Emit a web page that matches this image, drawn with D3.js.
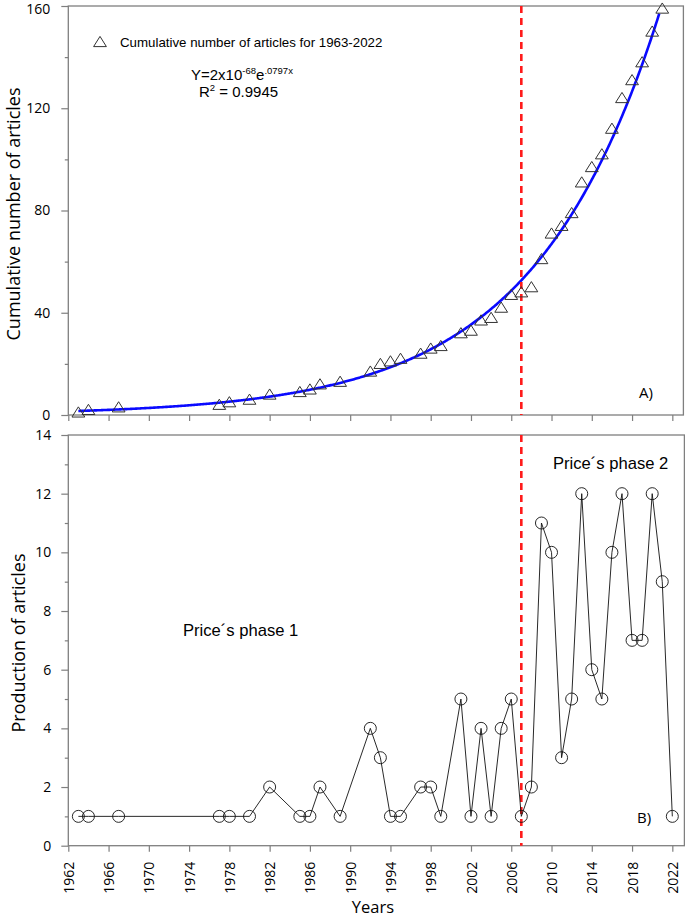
<!DOCTYPE html>
<html><head><meta charset="utf-8">
<script src="https://cdn.jsdelivr.net/npm/d3@7"></script>
<style>body{margin:0;background:#fff}svg{display:block}</style>
</head><body>
<svg id="c" width="685" height="919"></svg>
<script>
// ---- data ----
const years = [1963,1964,1967,1977,1978,1980,1982,1985,1986,1987,1989,1992,1993,1994,1995,1997,1998,1999,2001,2002,2003,2004,2005,2006,2007,2008,2009,2010,2011,2012,2013,2014,2015,2016,2017,2018,2019,2020,2021,2022];
const production = [1,1,1,1,1,1,2,1,1,2,1,4,3,1,1,2,2,1,5,1,4,1,4,5,1,2,11,10,3,5,12,6,5,10,12,7,7,12,9,1];
const cumYears = [1963,1964,1967,1977,1978,1980,1982,1985,1986,1987,1989,1992,1993,1994,1995,1997,1998,1999,2001,2002,2003,2004,2005,2006,2007,2008,2009,2010,2011,2012,2013,2014,2015,2016,2017,2018,2019,2020,2021];
const cumulative = [1,2,3,4,5,6,8,9,10,12,13,17,20,21,22,24,26,27,32,33,37,38,42,47,48,50,61,71,74,79,91,97,102,112,124,131,138,150,159];
const fitA = 1.79e-68, fitB = 0.0797, fitStart = 1963, fitEnd = 2020.7;
const phaseYear = 2007;
const xTicks = [1962,1966,1970,1974,1978,1982,1986,1990,1994,1998,2002,2006,2010,2014,2018,2022];
const topTicks = [0,40,80,120,160], topMinor = [20,60,100,140];
const botTicks = [0,2,4,6,8,10,12,14], botMinor = [1,3,5,7,9,11,13];

// ---- setup ----
const svg = d3.select("#c");
const AX = "#7f7f7f";
const TICKFONT = "'Open Sans', sans-serif";
const ARIAL = "'Liberation Sans', Arial, sans-serif";
const L = 68.3;
const xT = d3.scaleLinear().domain([1962, 2023.1]).range([L, 683.4]);
const xB = d3.scaleLinear().domain([1962, 2023.1]).range([L, 683.4]);
const yT = d3.scaleLinear().domain([0,160]).range([415, 6]);
const yB = d3.scaleLinear().domain([0,14]).range([845.7, 435]);

function styleAxis(g){
  g.select(".domain").remove();
  g.selectAll(".tick line").attr("stroke", AX).attr("stroke-width", 1.2);
  g.selectAll(".tick text").attr("fill","#000").style("font-family", TICKFONT).style("font-size","14px");
}

// ---- top panel ----
const topG = svg.append("g");
topG.append("rect").attr("x", L).attr("y", 6).attr("width", 683.4 - L).attr("height", 409)
  .attr("fill","none").attr("stroke", AX).attr("stroke-width", 1.3);
const yAxT = topG.append("g").attr("transform",`translate(${L},0)`)
  .call(d3.axisLeft(yT).tickValues(topTicks).tickSize(7).tickPadding(11).tickFormat(d3.format("d"))).call(styleAxis);
yAxT.selectAll(".tick text").filter(d => d === 160).attr("dy", "0.5em");
topG.append("g").attr("transform",`translate(${L},0)`)
  .call(d3.axisLeft(yT).tickValues(topMinor).tickSize(3.5).tickFormat("")).call(styleAxis);
topG.append("g").attr("transform",`translate(0,415)`)
  .call(d3.axisBottom(xT).tickValues(xTicks).tickSize(6).tickFormat("")).call(styleAxis);

// fit curve
const fitPts = d3.range(fitStart, fitEnd + 0.001, 0.1).map(t => [t, fitA * Math.exp(fitB * t)]);
topG.append("path").datum(fitPts)
  .attr("d", d3.line().x(d => xT(d[0])).y(d => yT(d[1])).curve(d3.curveLinear))
  .attr("fill","none").attr("stroke","#0a0aff").attr("stroke-width", 2.6);

// red dashed line top
topG.append("line").attr("x1", xT(phaseYear)).attr("x2", xT(phaseYear)).attr("y1", yT(160)).attr("y2", yT(0))
  .attr("stroke","#ff1a1a").attr("stroke-width", 2.6).attr("stroke-dasharray","7,5");

// triangles
const tri = "M0,-5.6L6.4,4.6L-6.4,4.6Z";
topG.selectAll("path.tri").data(cumYears.map((y,i)=>[y,cumulative[i]])).join("path")
  .attr("class","tri").attr("d", tri)
  .attr("transform", d => `translate(${xT(d[0])},${yT(d[1])})`)
  .attr("fill","none").attr("stroke","#333").attr("stroke-width", 1);

// legend & formula
topG.append("path").attr("d", tri).attr("transform","translate(100,42)")
  .attr("fill","none").attr("stroke","#333").attr("stroke-width",1);
topG.append("text").attr("x",120).attr("y",47).style("font-family",ARIAL).style("font-size","13.3px")
  .text("Cumulative number of articles for 1963-2022");
const f1 = topG.append("text").attr("x",191).attr("y",80).style("font-family",ARIAL).style("font-size","15px");
f1.append("tspan").text("Y=2x10");
f1.append("tspan").attr("dy",-6).style("font-size","9.5px").text("-68");
f1.append("tspan").attr("dy",6).text("e");
f1.append("tspan").attr("dy",-6).style("font-size","9.5px").text(".0797x");
const f2 = topG.append("text").attr("x",199).attr("y",97).style("font-family",ARIAL).style("font-size","15px");
f2.append("tspan").text("R");
f2.append("tspan").attr("dy",-6).style("font-size","9.5px").text("2");
f2.append("tspan").attr("dy",6).text(" = 0.9945");
topG.append("text").attr("x",639).attr("y",398).style("font-family",TICKFONT).style("font-size","15px").text("A)");

// y label top
topG.append("text").attr("transform","translate(20,214) rotate(-90)").attr("text-anchor","middle")
  .style("font-family",TICKFONT).style("font-size","18px").text("Cumulative number of articles");

// ---- bottom panel ----
const botG = svg.append("g");
botG.append("rect").attr("x", L).attr("y", 435).attr("width", 684.4 - L).attr("height", 845.7 - 435)
  .attr("fill","none").attr("stroke", AX).attr("stroke-width", 1.3);
botG.append("g").attr("transform",`translate(${L},0)`)
  .call(d3.axisLeft(yB).tickValues(botTicks).tickSize(7).tickPadding(10).tickFormat(d3.format("d"))).call(styleAxis);
botG.append("g").attr("transform",`translate(${L},0)`)
  .call(d3.axisLeft(yB).tickValues(botMinor).tickSize(3.5).tickFormat("")).call(styleAxis);
const xa = botG.append("g").attr("transform",`translate(0,845.7)`)
  .call(d3.axisBottom(xB).tickValues(xTicks).tickSize(6).tickFormat(d3.format("d"))).call(styleAxis);
xa.selectAll(".tick text").attr("transform","rotate(-90)").attr("x",-16).attr("y",0).attr("dy","0.36em")
  .attr("text-anchor","end");

// red dashed line bottom
botG.append("line").attr("x1", xB(phaseYear)).attr("x2", xB(phaseYear)).attr("y1", yB(14)).attr("y2", yB(0))
  .attr("stroke","#ff1a1a").attr("stroke-width", 2.6).attr("stroke-dasharray","7,5");

const pts = years.map((y,i)=>[y, production[i]]);
botG.append("path").datum(pts).attr("d", d3.line().x(d=>xB(d[0])).y(d=>yB(d[1])))
  .attr("fill","none").attr("stroke","#111").attr("stroke-width",0.9);
botG.selectAll("circle").data(pts).join("circle")
  .attr("cx", d=>xB(d[0])).attr("cy", d=>yB(d[1])).attr("r", 6)
  .attr("fill","none").attr("stroke","#111").attr("stroke-width",0.9);

botG.append("text").attr("x",553).attr("y",469).style("font-family",ARIAL).style("font-size","16.6px").text("Price\u00b4s phase 2");
botG.append("text").attr("x",183).attr("y",636).style("font-family",ARIAL).style("font-size","16.6px").text("Price\u00b4s phase 1");
botG.append("text").attr("x",637).attr("y",823).style("font-family",TICKFONT).style("font-size","15px").text("B)");

botG.append("text").attr("transform","translate(25,643) rotate(-90)").attr("text-anchor","middle")
  .style("font-family",TICKFONT).style("font-size","18px").text("Production of articles");
botG.append("text").attr("x",373).attr("y",913).attr("text-anchor","middle")
  .style("font-family",TICKFONT).style("font-size","16.5px").text("Years");
</script>
</body></html>
